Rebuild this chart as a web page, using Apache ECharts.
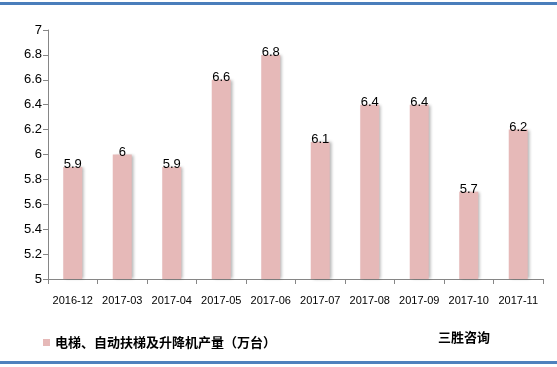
<!DOCTYPE html>
<html><head><meta charset="utf-8">
<script src="https://cdn.jsdelivr.net/npm/echarts@6/dist/echarts.min.js"></script>
<style>html,body{margin:0;padding:0;background:#fff}#c{width:557px;height:367px}</style>
</head><body><div id="c"></div>
<script>
const categories = ['2016-12','2017-03','2017-04','2017-05','2017-06','2017-07','2017-08','2017-09','2017-10','2017-11'];
const production = [5.9, 6, 5.9, 6.6, 6.8, 6.1, 6.4, 6.4, 5.7, 6.2];
const seriesName = '电梯、自动扶梯及升降机产量（万台）';
const sourceText = '三胜咨询';

const chart = echarts.init(document.getElementById('c'), null, {renderer:'canvas'});
chart.setOption({
  animation: false,
  backgroundColor: '#fff',
  grid: {left: 48, right: 14, top: 30, bottom: 88},
  legend: {
    left: 38, top: 331, itemWidth: 7, itemHeight: 7, itemGap: 6,
    icon: 'rect',
    textStyle: {fontFamily: 'Noto Sans CJK SC', fontSize: 13, fontWeight: 'bold', color: '#000'},
    data: [seriesName]
  },
  graphic: [
    {type: 'rect', shape: {x: 0, y: 2, width: 557, height: 3}, style: {fill: '#4A7EBB'}},
    {type: 'rect', shape: {x: 0, y: 361, width: 557, height: 3}, style: {fill: '#4F81BD'}},
    {type: 'text', left: 438, top: 331, style: {text: sourceText, font: 'bold 13px "Noto Sans CJK SC"', fill: '#000'}}
  ],
  xAxis: {
    type: 'category', data: categories,
    axisLine: {lineStyle: {color: '#868686'}},
    axisTick: {show: true, length: 5, alignWithLabel: false, lineStyle: {color: '#868686'}},
    axisLabel: {interval: 0, hideOverlap: false, color: '#000', fontSize: 11, fontFamily: 'Liberation Sans', margin: 16}
  },
  yAxis: {
    type: 'value', min: 5, max: 7, interval: 0.2,
    splitLine: {show: false},
    axisLine: {show: true, lineStyle: {color: '#868686'}},
    axisTick: {show: true, length: 5, lineStyle: {color: '#868686'}},
    axisLabel: {color: '#000', fontSize: 13, fontFamily: 'Liberation Sans', margin: 6,
      formatter: v => String(+v.toFixed(1))}
  },
  series: [{
    name: seriesName, type: 'bar', data: production, barWidth: 19,
    itemStyle: {color: '#E6B9B8', shadowColor: 'rgba(0,0,0,0.3)', shadowBlur: 3, shadowOffsetX: 2, shadowOffsetY: 0},
    label: {show: true, position: 'top', distance: -4, color: '#000', fontSize: 13,
      fontFamily: 'Liberation Sans', formatter: p => String(p.value)}
  }]
});
</script></body></html>
